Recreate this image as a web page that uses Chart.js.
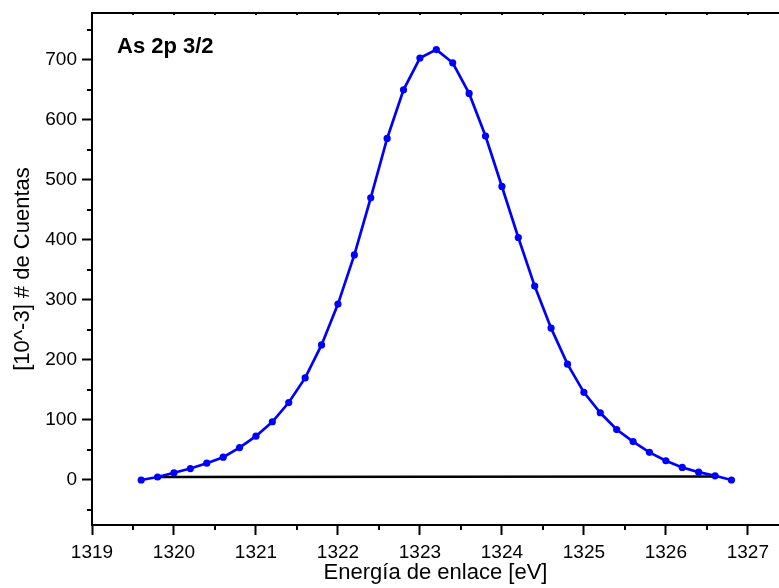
<!DOCTYPE html>
<html>
<head>
<meta charset="utf-8">
<script src="https://cdn.jsdelivr.net/npm/chart.js@4/dist/chart.umd.min.js"></script>
<style>
  html, body { margin: 0; padding: 0; background: #fff; }
  #wrap { width: 779px; height: 588px; }
</style>
</head>
<body>
<div id="wrap"><canvas id="xpsChart"></canvas></div>
<script>
// binding energy (eV) and counts (x10^-3)
var energy = [1319.6, 1319.8, 1320.0, 1320.2, 1320.4, 1320.6, 1320.8, 1321.0, 1321.2, 1321.4,
              1321.6, 1321.8, 1322.0, 1322.2, 1322.4, 1322.6, 1322.8, 1323.0, 1323.2, 1323.4,
              1323.6, 1323.8, 1324.0, 1324.2, 1324.4, 1324.6, 1324.8, 1325.0, 1325.2, 1325.4,
              1325.6, 1325.8, 1326.0, 1326.2, 1326.4, 1326.6, 1326.8];
var counts = [0, 5, 12, 19, 28, 38, 54, 73, 97, 129,
              170, 225, 293, 375, 470, 569, 650, 703, 717, 695,
              644, 573, 489, 404, 323, 253, 193, 146, 112, 84,
              64, 46, 32, 21, 13, 7, 0];
// background line under the peak
var bgEnergy = [1319.8, 1326.6];
var bgCounts = [5, 6];

var peakLabel = 'As 2p 3/2';
var xTitle = 'Energía de enlace [eV]';
var yTitle = '[10^-3] # de Cuentas';

var FONT = '"Liberation Sans", Arial, sans-serif';

var frame = {
    id: 'frame',
    afterDraw: function (chart) {
        var c = chart.ctx, a = chart.chartArea;
        var xs = chart.scales.x, ys = chart.scales.y;
        c.save();
        c.strokeStyle = '#000';
        // top border
        c.lineWidth = 2;
        c.beginPath();
        c.moveTo(a.left - 1, a.top);
        c.lineTo(chart.width, a.top);
        c.stroke();
        // minor ticks
        c.lineWidth = 2;
        c.beginPath();
        ys.ticks.forEach(function (t) {
            if (t.value % 100 !== 0) {
                var y = Math.round(ys.getPixelForValue(t.value));
                c.moveTo(a.left - 5, y);
                c.lineTo(a.left, y);
            }
        });
        xs.ticks.forEach(function (t) {
            var x = Math.round(xs.getPixelForValue(t.value));
            if (t.value % 1 !== 0) {
                c.moveTo(x, a.bottom);
                c.lineTo(x, a.bottom + 5);
            }
            // small ticks on top border
            c.moveTo(x, a.top);
            c.lineTo(x, a.top + 2);
        });
        c.stroke();
        // peak label
        c.fillStyle = '#000';
        c.font = 'bold 22px ' + FONT;
        c.textBaseline = 'alphabetic';
        c.fillText(peakLabel, a.left + 25, 53);
        c.restore();
    }
};

var ctx = document.getElementById('xpsChart').getContext('2d');
var myChart = new Chart(ctx, {
    type: 'scatter',
    data: {
        datasets: [
            {
                label: 'As 2p 3/2',
                data: energy.map(function (e, i) { return { x: e, y: counts[i] }; }),
                showLine: true,
                borderColor: '#0000ff',
                backgroundColor: '#0000ff',
                borderWidth: 2.7,
                pointRadius: 3.6,
                pointBorderWidth: 0,
                tension: 0
            },
            {
                label: 'fondo',
                data: bgEnergy.map(function (e, i) { return { x: e, y: bgCounts[i] }; }),
                showLine: true,
                borderColor: '#000',
                borderWidth: 2.5,
                pointRadius: 0
            }
        ]
    },
    options: {
        responsive: true,
        maintainAspectRatio: false,
        animation: false,
        layout: { autoPadding: false, padding: { top: 13, left: 0, right: 0, bottom: 0 } },
        plugins: {
            legend: { display: false },
            tooltip: { enabled: false }
        },
        scales: {
            x: {
                type: 'linear',
                min: 1319,
                max: 1327.38,
                afterFit: function (s) { s.height = 63; s.paddingLeft = 0; s.paddingRight = 0; },
                border: { color: '#000', width: 2 },
                grid: {
                    drawOnChartArea: false,
                    tickLength: 10,
                    tickWidth: 2,
                    tickColor: function (c) {
                        return (c.tick && c.tick.value % 1 === 0) ? '#000' : 'rgba(0,0,0,0)';
                    }
                },
                ticks: {
                    stepSize: 0.5,
                    includeBounds: false,
                    autoSkip: false,
                    maxRotation: 0,
                    padding: 6,
                    color: '#000',
                    font: { family: FONT, size: 19 },
                    callback: function (v) { return v % 1 === 0 ? String(v) : ''; }
                },
                title: {
                    display: true,
                    text: xTitle,
                    color: '#000',
                    font: { family: FONT, size: 22 },
                    padding: { top: 0, bottom: 2 }
                }
            },
            y: {
                min: -75,
                max: 778,
                afterFit: function (s) { s.width = 92; s.paddingTop = 0; s.paddingBottom = 0; },
                border: { color: '#000', width: 2 },
                grid: {
                    drawOnChartArea: false,
                    tickLength: 10,
                    tickWidth: 2,
                    tickColor: function (c) {
                        return (c.tick && c.tick.value % 100 === 0) ? '#000' : 'rgba(0,0,0,0)';
                    }
                },
                ticks: {
                    stepSize: 50,
                    includeBounds: false,
                    autoSkip: false,
                    padding: 5,
                    color: '#000',
                    font: { family: FONT, size: 19 },
                    callback: function (v) { return v % 100 === 0 ? String(v) : ''; }
                },
                title: {
                    display: true,
                    text: yTitle,
                    color: '#000',
                    font: { family: FONT, size: 22 },
                    padding: { top: 10, bottom: 0 }
                }
            }
        }
    },
    plugins: [frame]
});
</script>
</body>
</html>
